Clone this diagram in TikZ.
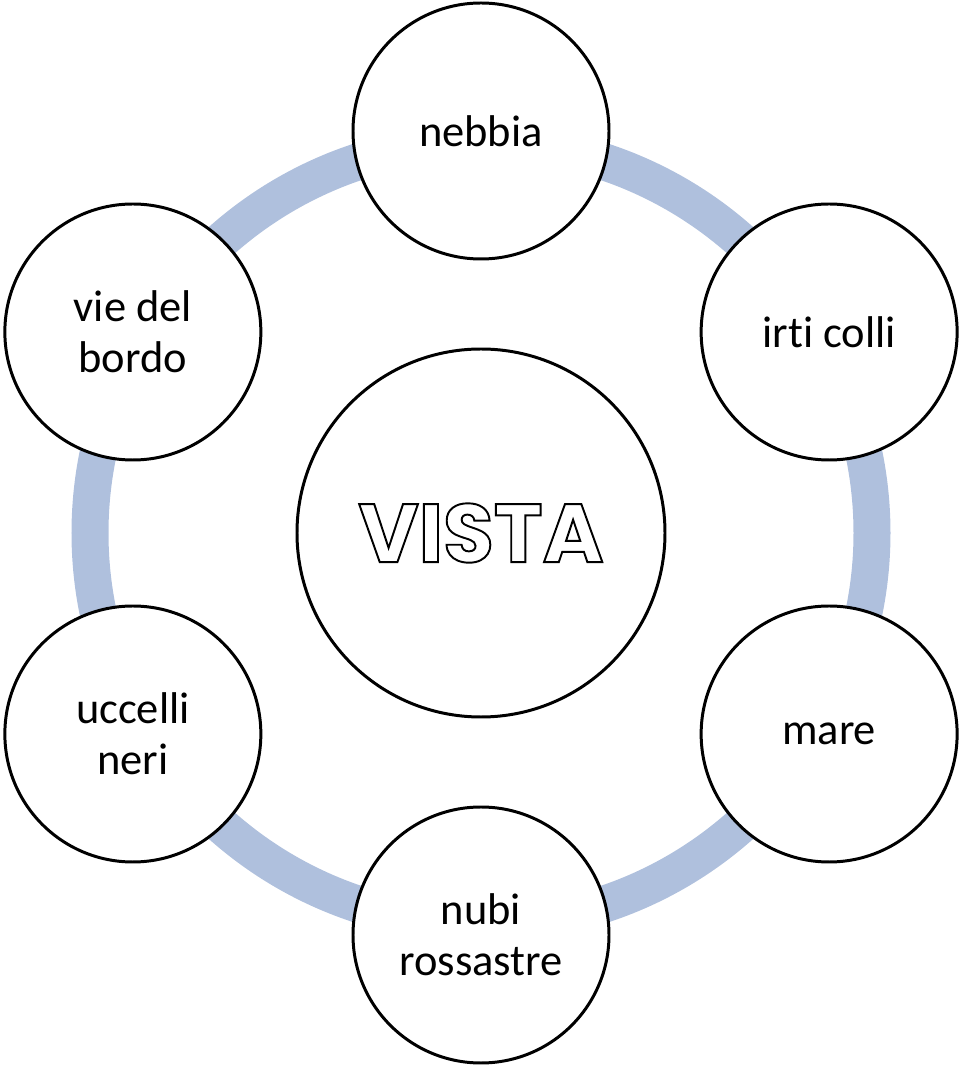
\documentclass[tikz,border=0pt]{standalone}
\usepackage{fontspec}
\setmainfont{Carlito}[Ligatures=NoCommon]
\newfontfamily\vistafont{Poppins}[BoldFont={* Bold}]
\usepackage{xcolor}
\usepackage{tikz}
\usetikzlibrary{positioning, calc}

\definecolor{ringblue}{HTML}{AFC0DD}
% outlined letters: white fill, black stroke
\newcommand{\outlined}[1]{\special{pdf:literal direct 2 Tr 1.1 w 0 0 0 RG 1 1 1 rg}#1\special{pdf:literal direct 0 Tr 0 0 0 rg}}

\begin{document}
\begin{tikzpicture}[
    ring/.style={draw=ringblue, line width=0.74cm},
    bubble/.style={
        circle, draw=black, line width=1.7pt, fill=white, minimum size=5.12cm,
        text centered, align=center, font=\fontsize{25.3}{29}\selectfont
    },
    core/.style={bubble, minimum size=7.36cm},
    title/.style={font=\vistafont\bfseries\fontsize{47}{50}\selectfont}
]
\useasboundingbox (0,0) rectangle (19.2,21.32);

% Centre
\coordinate (mid) at (9.62,10.66);

% Ring behind the bubbles
\draw[ring] (mid) circle (7.82cm);

% Central bubble
\node[core] (vista) at (mid) {};
\node[title] (vistatext) at (vista.center) {\outlined{VISTA}};

% Outer bubbles
\node[bubble] (nebbia) at ([shift={(90:8.04)}]mid) {nebbia};
\node[bubble] (irti) at ([shift={(30:8.04)}]mid) {irti colli};
\node[bubble] (mare) at ([shift={(-30:8.04)}]mid) {mare};
\node[bubble] (nubi) at ([shift={(-90:8.04)}]mid) {nubi\\rossastre};
\node[bubble] (uccelli) at ([shift={(210:8.04)}]mid) {uccelli\\neri};
\node[bubble] (vie) at ([shift={(150:8.04)}]mid) {vie del\\bordo};

\end{tikzpicture}
\end{document}
